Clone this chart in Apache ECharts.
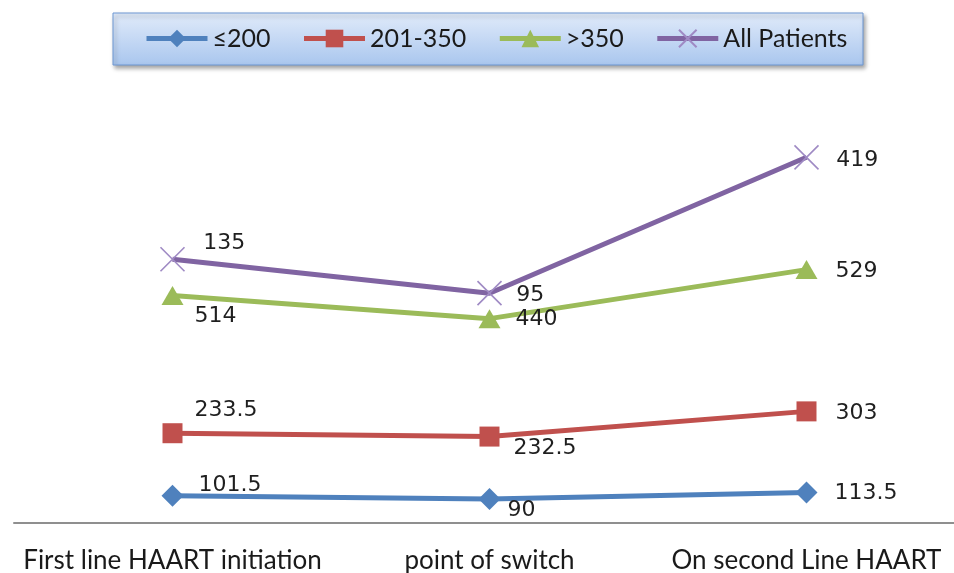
<!DOCTYPE html>
<html>
<head>
<meta charset="utf-8">
<script src="https://cdn.jsdelivr.net/npm/echarts@6/dist/echarts.min.js"></script>
<style>html,body{margin:0;padding:0;background:#fff}#c{width:954px;height:573px}</style>
</head>
<body>
<div id="c"></div>
<script>
var categories = ['First line HAART initiation', 'point of switch', 'On second Line HAART'];
var seriesNames = ['\u2264200', '201-350', '>350', 'All Patients'];
var cd4Low = [101.5, 90, 113.5];
var cd4Mid = [233.5, 232.5, 303];
var cd4High = [514, 440, 529];
var allPatients = [135, 95, 419];

// label offsets (styling only): [dx from point centre to text left, dy]
var labelOffsets = [
  [[26, -11], [18, 11], [28, 1]],
  [[22, -23], [24, 12], [29, 2]],
  [[22, 21], [26, 1], [29, 2]],
  [[30, -16], [26, 2], [29, 3]]
];
var colors = ['#4F81BD', '#C0504D', '#9BBB59', '#8064A2'];
var symbols = ['diamond', 'rect', 'triangle', 'path://M0,0L10,10M10,0L0,10'];
var symbolSizes = [22, 20, [22, 19], 24];

function mkSeries(idx, values) {
  var size = symbolSizes[idx];
  var half = (Array.isArray(size) ? size[0] : size) / 2;
  return {
    name: seriesNames[idx],
    type: 'line',
    stack: 'total',
    data: values.map(function (v, i) {
      var o = labelOffsets[idx][i];
      return {
        value: v,
        label: { position: 'right', distance: 0, offset: [o[0] - half, o[1]] }
      };
    }),
    symbol: symbols[idx],
    symbolSize: size,
    showAllSymbol: true,
    lineStyle: { color: colors[idx], width: 5 },
    itemStyle: idx === 3
      ? { color: '#9F8AC4', borderColor: '#9F8AC4', borderWidth: 1.6 }
      : { color: colors[idx] },
    label: {
      show: true,
      fontFamily: 'DejaVu Sans',
      fontSize: 22,
      color: '#1f1f1f'
    },
    emphasis: { disabled: true },
    animation: false,
    z: 3 + idx
  };
}

var chart = echarts.init(document.getElementById('c'), null, { renderer: 'canvas' });
chart.setOption({
  animation: false,
  backgroundColor: '#fff',
  graphic: [{
    type: 'rect',
    z: 0,
    shape: { x: 113, y: 13, width: 750, height: 52 },
    style: {
      fill: new echarts.graphic.LinearGradient(0, 0, 0, 1, [
        { offset: 0, color: '#e1ebfa' },
        { offset: 1, color: '#a9c6ee' }
      ]),
      stroke: '#6c97d3',
      lineWidth: 1,
      shadowBlur: 4,
      shadowOffsetX: 2,
      shadowOffsetY: 3,
      shadowColor: 'rgba(0,0,0,0.35)'
    }
  }],
  legend: {
    z: 10,
    left: 144,
    top: 26,
    itemWidth: 61,
    itemHeight: 22,
    itemGap: 31,
    padding: 0,
    lineStyle: { width: 5 },
    textStyle: { fontFamily: 'Lato', fontSize: 25, color: '#1a1a1a' },
    data: seriesNames
  },
  grid: { left: 14, top: 121, width: 951, height: 402, outerBoundsMode: 'none', containLabel: false },
  xAxis: {
    type: 'category',
    data: categories,
    boundaryGap: true,
    axisLine: { show: true, lineStyle: { color: '#8f8f8f', width: 2 } },
    axisTick: { show: false },
    axisLabel: { interval: 0, fontFamily: 'Lato', fontSize: 26, color: '#1a1a1a', margin: 25 },
    splitLine: { show: false }
  },
  yAxis: {
    type: 'value',
    min: 0,
    max: 1500,
    show: false,
    splitLine: { show: false }
  },
  series: [
    mkSeries(0, cd4Low),
    mkSeries(1, cd4Mid),
    mkSeries(2, cd4High),
    mkSeries(3, allPatients)
  ]
});
</script>
</body>
</html>
